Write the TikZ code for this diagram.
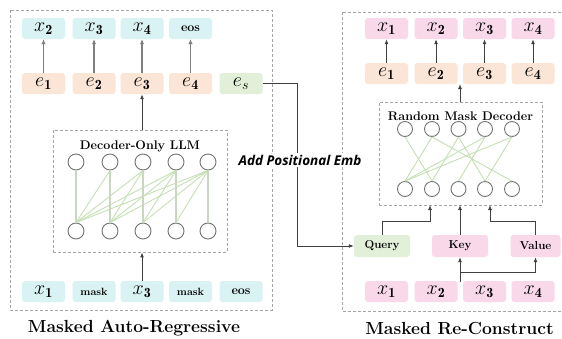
\documentclass[tikz,border=0pt]{standalone}
\usepackage{fix-cm}
\usepackage{fontspec}
\newfontfamily\embfont{Open Sans}
\usetikzlibrary{arrows.meta}
\definecolor{cyanbox}{HTML}{D9F2F3}
\definecolor{peachbox}{HTML}{FBE5D6}
\definecolor{greenbox}{HTML}{E2F0D9}
\definecolor{pinkbox}{HTML}{F8D8E9}
\definecolor{dashgray}{HTML}{A6A6A6}
\definecolor{circgray}{HTML}{737373}
\definecolor{linkgreen}{HTML}{C5E0B4}
\definecolor{vertgreen}{HTML}{C9D6C0}
\definecolor{arrdark}{HTML}{404040}
\definecolor{arrgray}{HTML}{7F7F7F}
\tikzset{
  tok/.style={rectangle, rounded corners=3pt, minimum width=43pt, minimum height=21pt, inner sep=0pt, font=\fontsize{20}{20}\selectfont},
  cyantok/.style={tok, fill=cyanbox},
  peachtok/.style={tok, fill=peachbox},
  greentok/.style={tok, fill=greenbox},
  pinktok/.style={tok, fill=pinkbox},
  wordfont/.style={font=\fontsize{11.5}{11.5}\selectfont\bfseries},
  panel/.style={draw=dashgray, dashed, dash pattern=on 3pt off 2pt, line width=0.8pt},
  neuron/.style={circle, draw=circgray, line width=0.9pt, minimum size=16pt, inner sep=0pt, fill=white},
  link/.style={draw=linkgreen, line width=0.9pt},
  vlink/.style={draw=vertgreen, line width=2pt},
  arr/.style={draw=arrdark, line width=0.9pt, -{Latex[length=5pt,width=4pt]}},
  garr/.style={draw=arrgray, line width=1.4pt, -{Latex[length=5pt,width=4.5pt]}},
  titlefont/.style={font=\fontsize{17.5}{17.5}\selectfont\bfseries},
  dectitle/.style={font=\fontsize{12.5}{12.5}\selectfont\bfseries}
}
\begin{document}
\begin{tikzpicture}[x=1pt,y=-1pt]
\clip (0,0) rectangle (562,338);
\fill[white] (0,0) rectangle (562,338);

% ---------------- Left panel ----------------
\draw[panel] (10,10) rectangle (272,310);

\node[cyantok] (lx2) at (43.5,28.5) {$x_{\mathbf{2}}$};
\node[cyantok] (lx3) at (94,28.5) {$x_{\mathbf{3}}$};
\node[cyantok] (lx4) at (142,28.5) {$x_{\mathbf{4}}$};
\node[cyantok, font=\fontsize{12.5}{12.5}\selectfont\bfseries] (leos) at (190.5,28.5) {eos};

\node[peachtok] (le1) at (43.5,83.5) {$e_{\mathbf{1}}$};
\node[peachtok] (le2) at (94,83.5) {$e_{\mathbf{2}}$};
\node[peachtok] (le3) at (142,83.5) {$e_{\mathbf{3}}$};
\node[peachtok] (le4) at (190.5,83.5) {$e_{\mathbf{4}}$};
\node[greentok] (les) at (241,83.5) {$e_s$};

\draw[garr] (le1) -- (lx2);
\draw[garr] (le2) -- (lx3);
\draw[garr] (le3) -- (lx4);
\draw[garr] (le4) -- (leos);

\node[panel, rectangle, minimum width=174pt, minimum height=122pt, inner sep=0pt] (ldec) at (140,191) {};
\node[dectitle] (ldectitle) at (140,146) {Decoder-Only LLM};

\foreach \i/\x in {1/76,2/110,3/143,4/176,5/208}{
  \node[neuron] (lt\i) at (\x,162) {};
  \node[neuron] (lb\i) at (\x,231) {};
}
\foreach \i in {1,...,5}{
  \foreach \j in {1,...,\i}{
    \ifnum\i=\j\relax
    \else
      \draw[link] (lb\j.north) -- (lt\i.south);
    \fi
  }
}
\foreach \i in {1,...,5}{
  \draw[vlink] (lb\i.north) -- (lt\i.south);
}

\draw[arr] (ldec.north -| le3) -- (le3.south);

\node[cyantok] (li1) at (43.5,291.5) {$x_{\mathbf{1}}$};
\node[cyantok, font=\fontsize{10.5}{10.5}\selectfont\bfseries] (li2) at (94,291.5) {mask};
\node[cyantok] (li3) at (142,291.5) {$x_{\mathbf{3}}$};
\node[cyantok, font=\fontsize{10.5}{10.5}\selectfont\bfseries] (li4) at (190.5,291.5) {mask};
\node[cyantok, font=\fontsize{12.5}{12.5}\selectfont\bfseries] (li5) at (241,291.5) {eos};

\draw[arr] (li3.north) -- (li3.north |- ldec.south);

\node[titlefont] (ltitle) at (134,328) {Masked Auto-Regressive};

% ---------------- Right panel ----------------
\draw[panel] (342,12) rectangle (580,311);

\node[pinktok] (rx1) at (386.5,28.5) {$x_{\mathbf{1}}$};
\node[pinktok] (rx2) at (436,28.5) {$x_{\mathbf{2}}$};
\node[pinktok] (rx3) at (484.5,28.5) {$x_{\mathbf{3}}$};
\node[pinktok] (rx4) at (533,28.5) {$x_{\mathbf{4}}$};

\node[peachtok] (re1) at (386.5,73.5) {$e_{\mathbf{1}}$};
\node[peachtok] (re2) at (436,73.5) {$e_{\mathbf{2}}$};
\node[peachtok] (re3) at (484.5,73.5) {$e_{\mathbf{3}}$};
\node[peachtok] (re4) at (533,73.5) {$e_{\mathbf{4}}$};

\draw[arr] (re1) -- (rx1);
\draw[arr] (re2) -- (rx2);
\draw[arr] (re3) -- (rx3);
\draw[arr] (re4) -- (rx4);

\node[panel, rectangle, minimum width=163pt, minimum height=103pt, inner sep=0pt] (rdec) at (460.5,153.5) {};
\node[dectitle] (rdectitle) at (460.5,116) {Random Mask Decoder};

\coordinate (eout) at (460,84);
\draw[arr] (rdec.north -| eout) -- (eout);

\foreach \i/\x in {1/405,2/432,3/458.5,4/485,5/512}{
  \node[neuron, minimum size=15pt] (rt\i) at (\x,129) {};
  \node[neuron, minimum size=15pt] (rb\i) at (\x,189) {};
}
\foreach \a/\b in {1/2,2/1,2/5,3/2,3/4,4/1,4/3,5/1,5/4}{
  \draw[link] (rt\a.south) -- (rb\b.north);
}

\node[greentok, minimum width=56pt, minimum height=22pt, wordfont] (query) at (382,246) {Query};
\node[pinktok, minimum width=56pt, minimum height=22pt, wordfont] (key) at (460,246) {Key};
\node[pinktok, minimum width=50pt, minimum height=22pt, wordfont] (value) at (535.5,246) {Value};

\coordinate (qin) at (430,205);
\coordinate (kin) at (460,205);
\coordinate (vin) at (490,205);
\draw[arr] (query.north) |- (qin |- 0,221) -- (qin);
\draw[arr] (key.north) -- (kin);
\draw[arr] (value.north) |- (vin |- 0,221) -- (vin);

\node[pinktok] (rb1x) at (386.5,291.5) {$x_{\mathbf{1}}$};
\node[pinktok] (rb2x) at (436,291.5) {$x_{\mathbf{2}}$};
\node[pinktok] (rb3x) at (484.5,291.5) {$x_{\mathbf{3}}$};
\node[pinktok] (rb4x) at (533,291.5) {$x_{\mathbf{4}}$};

\coordinate (src) at (460,282);
\coordinate (branch) at (460,272);
\draw[arr] (src) -- (key.south);
\draw[arr] (branch) -| (value.south);

\node[titlefont] (rtitle) at (459.5,328) {Masked Re-Construct};

% ---------------- Connector es -> Query ----------------
\coordinate (bend) at (297,83.5);
\draw[arr] (les.east) -- (bend) |- (query.west);

\node[fill=white, inner sep=1.5pt, font=\embfont\fontsize{13.5}{13.5}\selectfont\bfseries\itshape] (emb) at (300,160) {Add Positional Emb};
\end{tikzpicture}
\end{document}
